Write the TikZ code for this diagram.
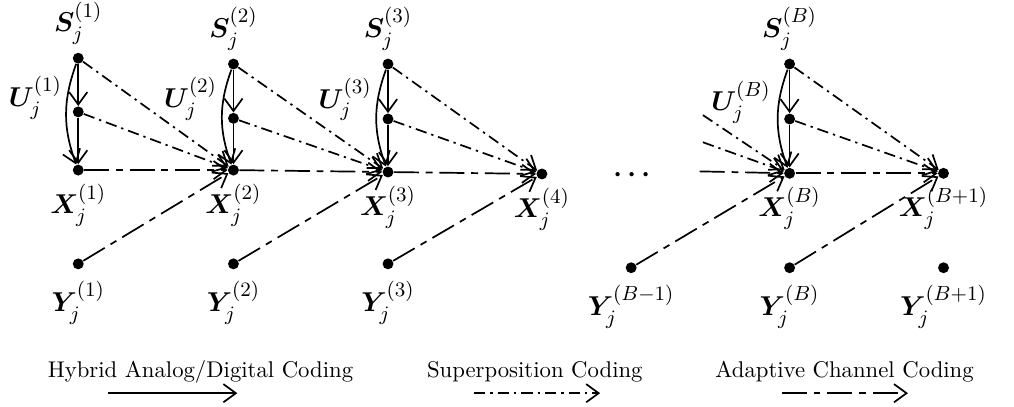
\documentclass[tikz,border=0pt]{standalone}
\usepackage{amsmath, amssymb, bm}
\usetikzlibrary{arrows.meta, positioning, calc}

\begin{document}
\begin{tikzpicture}[
    dot/.style={circle, fill=black, inner sep=0pt, minimum size=4.8pt},
    lbl/.style={font=\fontsize{13}{15}\selectfont, inner sep=1pt},
    legend/.style={font=\normalsize, inner sep=0pt},
    flow/.style={->, >={Straight Barb[length=5.5pt, width=8pt]}, line width=0.75pt},
    hybrid/.style={flow},
    superpos/.style={flow, dash pattern=on 5pt off 2.2pt on 1pt off 2.2pt},
    adaptive/.style={flow, dash pattern=on 11pt off 3pt on 3pt off 3pt}
]
\useasboundingbox (-1.21,-3.65) rectangle (14.47,2.63);

% block 1
\node[dot] (s1) at (0,1.73) {};
\node[dot] (u1) at (0,0.90) {};
\node[dot] (x1) at (0,0) {};
\node[dot] (y1) at (0,-1.45) {};
% block 2
\node[dot] (s2) at (2.40,1.64) {};
\node[dot] (u2) at (2.40,0.80) {};
\node[dot] (x2) at (2.40,0) {};
\node[dot] (y2) at (2.40,-1.45) {};
% block 3
\node[dot] (s3) at (4.79,1.64) {};
\node[dot] (u3) at (4.79,0.79) {};
\node[dot] (x3) at (4.79,-0.03) {};
\node[dot] (y3) at (4.79,-1.45) {};
% block 4
\node[dot] (x4) at (7.17,-0.06) {};
\node[lbl] (dots) at (8.60,-0.08) {$\bm{\cdots}$};
\node[dot] (yBm) at (8.55,-1.51) {};
% block B
\node[dot] (sB) at (11.0,1.64) {};
\node[dot] (uB) at (11.0,0.79) {};
\node[dot] (xB) at (11.0,-0.05) {};
\node[dot] (yB) at (11.0,-1.51) {};
% block B+1
\node[dot] (xBp) at (13.38,-0.05) {};
\node[dot] (yBp) at (13.38,-1.51) {};

% labels
\node[lbl, above=0.08cm of s1] {$\bm{S}_j^{(1)}$};
\node[lbl, above=0.08cm of s2] {$\bm{S}_j^{(2)}$};
\node[lbl, above=0.08cm of s3] {$\bm{S}_j^{(3)}$};
\node[lbl, above=0.08cm of sB] {$\bm{S}_j^{(B)}$};
\node[lbl, left=0.12cm of u1, yshift=0.22cm] {$\bm{U}_j^{(1)}$};
\node[lbl, left=0.12cm of u2, yshift=0.30cm] {$\bm{U}_j^{(2)}$};
\node[lbl, left=0.12cm of u3, yshift=0.30cm] {$\bm{U}_j^{(3)}$};
\node[lbl, left=0.16cm of uB, yshift=0.26cm] {$\bm{U}_j^{(B)}$};
\node[lbl, below=0.08cm of x1] {$\bm{X}_j^{(1)}$};
\node[lbl, below=0.08cm of x2] {$\bm{X}_j^{(2)}$};
\node[lbl, below=0.08cm of x3] {$\bm{X}_j^{(3)}$};
\node[lbl, below=0.08cm of x4] {$\bm{X}_j^{(4)}$};
\node[lbl, below=0.08cm of xB] {$\bm{X}_j^{(B)}$};
\node[lbl, below=0.08cm of xBp] {$\bm{X}_j^{(B+1)}$};
\node[lbl, below=0.14cm of y1] {$\bm{Y}_j^{(1)}$};
\node[lbl, below=0.14cm of y2] {$\bm{Y}_j^{(2)}$};
\node[lbl, below=0.14cm of y3] {$\bm{Y}_j^{(3)}$};
\node[lbl, below=0.14cm of yBm] {$\bm{Y}_j^{(B-1)}$};
\node[lbl, below=0.14cm of yB] {$\bm{Y}_j^{(B)}$};
\node[lbl, below=0.14cm of yBp] {$\bm{Y}_j^{(B+1)}$};

% hybrid coding inside each block
\draw[hybrid] (s1) -- (u1);
\draw[hybrid] (u1) -- (x1);
\draw[hybrid] (s1) to[bend right=20] (x1);
\draw[hybrid] (s2) -- (u2);
\draw[hybrid] (u2) -- (x2);
\draw[hybrid] (s2) to[bend right=20] (x2);
\draw[hybrid] (s3) -- (u3);
\draw[hybrid] (u3) -- (x3);
\draw[hybrid] (s3) to[bend right=20] (x3);
\draw[hybrid] (sB) -- (uB);
\draw[hybrid] (uB) -- (xB);
\draw[hybrid] (sB) to[bend right=20] (xB);

% superposition coding to the next block
\draw[superpos] (s1) -- (x2);
\draw[superpos] (u1) -- (x2);
\draw[superpos] (s2) -- (x3);
\draw[superpos] (u2) -- (x3);
\draw[superpos] (s3) -- (x4);
\draw[superpos] (u3) -- (x4);
\draw[superpos] (sB) -- (xBp);
\draw[superpos] (uB) -- (xBp);

% adaptive channel coding
\draw[adaptive] (x1) -- (x2);
\draw[adaptive] (x2) -- (x3);
\draw[adaptive] (x3) -- (x4);
\draw[adaptive] (xB) -- (xBp);
\draw[adaptive] (y1) -- (x2);
\draw[adaptive] (y2) -- (x3);
\draw[adaptive] (y3) -- (x4);
\draw[adaptive] (yBm) -- (xB);
\draw[adaptive] (yB) -- (xBp);

% lines coming from the previous block
\coordinate (inS) at (9.66,0.85);
\coordinate (inU) at (9.66,0.43);
\coordinate (inX) at (9.61,-0.02);
\draw[superpos] (inS) -- (xB);
\draw[superpos] (inU) -- (xB);
\draw[adaptive] (inX) -- (xB);

% legend
\node[legend] (hybridtxt) at (1.89,-3.12) {Hybrid Analog/Digital Coding};
\node[legend] (superpostxt) at (7.06,-3.12) {Superposition Coding};
\node[legend] (adaptivetxt) at (11.85,-3.12) {Adaptive Channel Coding};
\coordinate (h0) at (0.46,-3.45);
\coordinate (h1) at (2.46,-3.45);
\coordinate (p0) at (6.12,-3.45);
\coordinate (p1) at (8.07,-3.45);
\coordinate (a0) at (10.88,-3.45);
\coordinate (a1) at (12.83,-3.45);
\draw[hybrid] (h0) -- (h1);
\draw[superpos] (p0) -- (p1);
\draw[adaptive] (a0) -- (a1);
\end{tikzpicture}
\end{document}
